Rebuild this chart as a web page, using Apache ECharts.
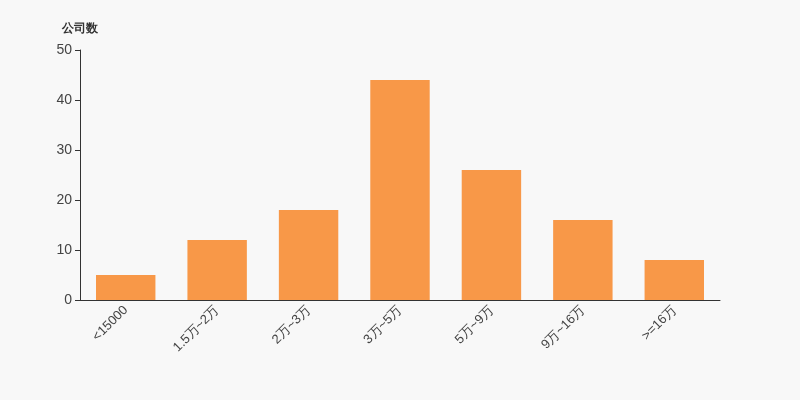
<!DOCTYPE html>
<html><head><meta charset="utf-8">
<script src="https://cdn.jsdelivr.net/npm/echarts@6/dist/echarts.min.js"></script>
<style>html,body{margin:0;padding:0;background:#f8f8f8}#c{width:800px;height:400px}</style>
</head><body><div id="c"></div>
<script>
const categories = ['<15000','1.5万~2万','2万~3万','3万~5万','5万~9万','9万~16万','>=16万'];
const values = [5,12,18,44,26,16,8];
const chart = echarts.init(document.getElementById('c'));
chart.setOption({
  backgroundColor:'#f8f8f8',
  animation:false,
  grid:{left:80,right:80,top:50,bottom:100},
  xAxis:{type:'category',data:categories,
    axisLine:{lineStyle:{color:'#333'}},
    axisTick:{lineStyle:{color:'#333'}},
    axisLabel:{rotate:45,color:'#444',fontSize:13,interval:0,fontFamily:'sans-serif'}},
  yAxis:{type:'value',min:0,max:50,interval:10,name:'公司数',nameGap:15,
    nameTextStyle:{color:'#333',fontWeight:'bold',fontSize:12,align:'center'},
    axisLine:{show:true,lineStyle:{color:'#333'}},
    axisTick:{show:true,lineStyle:{color:'#333'}},
    axisLabel:{color:'#444',fontSize:14},
    splitLine:{show:false}},
  series:[{type:'bar',data:values,barWidth:'65%',itemStyle:{color:'#f89848'}}]
});
</script></body></html>
